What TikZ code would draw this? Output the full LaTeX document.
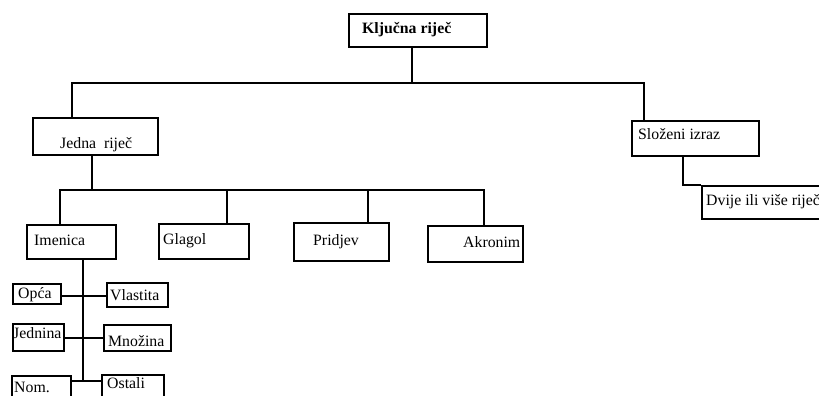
\documentclass[tikz,border=0pt]{standalone}
\usepackage{fontspec}
\setmainfont{Liberation Serif}
\begin{document}
\begin{tikzpicture}[x=1pt,y=-1pt,
  box/.style={draw=black,line width=1.6pt,rectangle,inner sep=0pt,anchor=north west},
  lbl/.style={anchor=base west,inner sep=0pt,font=\fontsize{15.8}{17}\selectfont},
  conn/.style={draw=black,line width=1.6pt}]
\useasboundingbox (0,0) rectangle (819,396);
\clip (0,0) rectangle (819,396);
% boxes
\node[box,minimum width=138pt,minimum height=33pt] (klj) at (348,13) {};
\node[box,minimum width=125pt,minimum height=37pt] (jedna) at (32,117) {};
\node[box,minimum width=127pt,minimum height=35pt] (slo) at (631,120) {};
\node[box,minimum width=124pt,minimum height=33pt] (dvije) at (701,185) {};
\node[box,minimum width=89pt,minimum height=34pt] (imen) at (26,224) {};
\node[box,minimum width=90pt,minimum height=35pt] (glag) at (158,223) {};
\node[box,minimum width=95pt,minimum height=38pt] (prid) at (293,222) {};
\node[box,minimum width=95pt,minimum height=36pt] (akro) at (427,225) {};
\node[box,minimum width=48pt,minimum height=20pt] (opca) at (12,283) {};
\node[box,minimum width=61pt,minimum height=24pt] (vlas) at (106,282) {};
\node[box,minimum width=51pt,minimum height=27pt] (jedn) at (12,323) {};
\node[box,minimum width=67pt,minimum height=26pt] (mnoz) at (103,324) {};
\node[box,minimum width=59pt,minimum height=40pt] (nom) at (11,375) {};
\node[box,minimum width=62pt,minimum height=40pt] (ost) at (101,374) {};
% texts
\node[lbl,font=\fontsize{15.8}{17}\selectfont\bfseries] (tklj) at (362,34) {Ključna riječ};
\node[lbl] (tjedna) at (60,148.5) {Jedna\ \ riječ};
\node[lbl] (tslo) at (638,139) {Složeni izraz};
\node[lbl] (tdvije) at (706,205) {Dvije ili više riječ};
\node[lbl] (timen) at (34,245) {Imenica};
\node[lbl] (tglag) at (163,244) {Glagol};
\node[lbl] (tprid) at (313,245) {Pridjev};
\node[lbl] (takro) at (463,247) {Akronim};
\node[lbl] (topca) at (18,298) {Opća};
\node[lbl] (tvlas) at (110,300) {Vlastita};
\node[lbl] (tjedn) at (13,338) {Jednina};
\node[lbl] (tmnoz) at (108,346) {Množina};
\node[lbl] (tnom) at (14,392) {Nom.};
\node[lbl] (tost) at (107,388) {Ostali};
% connectors
\coordinate (top) at (412,83);
\draw[conn] (412,0 |- klj.south) -- (top);
\draw[conn] (72,0 |- jedna.north) |- (644,83) -- (644,0 |- slo.north);
\coordinate (mid) at (92,190);
\draw[conn] (92,0 |- jedna.south) -- (mid);
\draw[conn] (60,0 |- imen.north) |- (484,190) -- (484,0 |- akro.north);
\draw[conn] (227,190) -- (227,0 |- glag.north);
\draw[conn] (368,190) -- (368,0 |- prid.north);
\draw[conn] (683,0 |- slo.south) |- (dvije.north west);
\coordinate (ibot) at (83,382);
\draw[conn] (83,0 |- imen.south) -- (ibot);
\draw[conn] (opca.east |- 0,296) -- (vlas.west |- 0,296);
\draw[conn] (jedn.east |- 0,338) -- (mnoz.west |- 0,338);
\draw[conn] (nom.east |- 0,381) -- (ost.west |- 0,381);
\end{tikzpicture}
\end{document}
